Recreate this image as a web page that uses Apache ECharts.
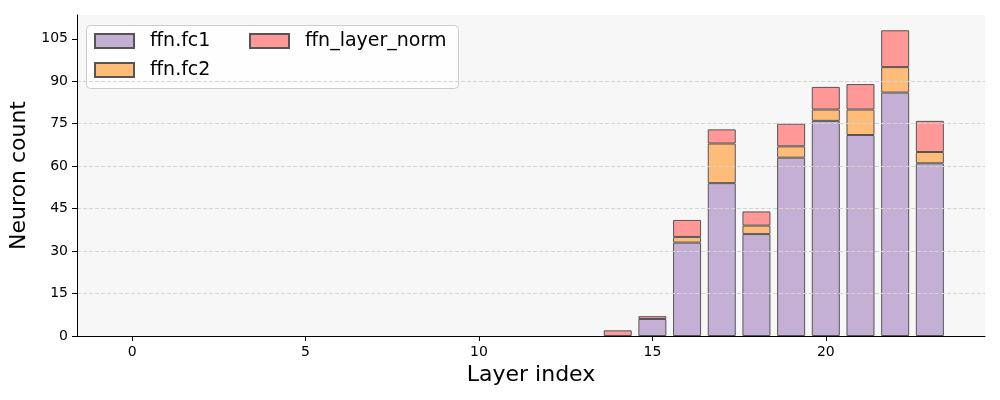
<!DOCTYPE html>
<html>
<head>
<meta charset="utf-8">
<script src="https://cdn.jsdelivr.net/npm/echarts@6/dist/echarts.min.js"></script>
<style>
  html, body { margin: 0; padding: 0; background: #ffffff; }
  #chart { width: 1000px; height: 400px; }
</style>
</head>
<body>
<div id="chart"></div>
<script>
// layer index 0..23
const layers = [0, 1, 2, 3, 4, 5, 6, 7, 8, 9, 10, 11, 12, 13, 14, 15, 16, 17, 18, 19, 20, 21, 22, 23];
const fc1 = [0, 0, 0, 0, 0, 0, 0, 0, 0, 0, 0, 0, 0, 0, 0, 6, 33, 54, 36, 63, 76, 71, 86, 61];
const fc2 = [0, 0, 0, 0, 0, 0, 0, 0, 0, 0, 0, 0, 0, 0, 0, 0, 2, 14, 3, 4, 4, 9, 9, 4];
const layerNorm = [0, 0, 0, 0, 0, 0, 0, 0, 0, 0, 0, 0, 0, 0, 2, 1, 6, 5, 5, 8, 8, 9, 13, 11];
const xTicks = [0, 5, 10, 15, 20];
const yTicks = [0, 15, 30, 45, 60, 75, 90, 105];

const font = "DejaVu Sans";
const edge = { borderColor: "#555555", borderWidth: 1 };

// value first so the stack goes on y; zero-height bars draw nothing
function pairs(vals) {
  return layers.map((l, i) => [vals[i] === 0 ? null : vals[i], l]);
}

function barSeries(name, vals, color) {
  return {
    name: name,
    type: "bar",
    stack: "ffn",
    barWidth: 28,
    encode: { x: 1, y: 0 },
    data: pairs(vals),
    itemStyle: Object.assign({ color: color }, edge),
  };
}

const legendText = {
  fontFamily: font,
  fontSize: 19,
  lineHeight: 20,
  color: "#000",
  padding: [0, 0, 0, 11],
};

let myChart = echarts.init(document.getElementById("chart"));
let option = {
  animation: false,
  textStyle: { fontFamily: font },
  grid: {
    left: 77,
    right: 15,
    top: 15,
    bottom: 64,
    show: true,
    backgroundColor: "#f7f7f7",
    borderWidth: 0,
  },
  graphic: [
    {
      type: "rect",
      z: 3,
      shape: { x: 86.5, y: 25.5, width: 372, height: 63, r: 4 },
      style: { fill: "rgba(255,255,255,0.8)", stroke: "#cccccc", lineWidth: 1 },
    },
  ],
  legend: [
    {
      z: 5,
      orient: "vertical",
      left: 94,
      top: 31,
      padding: 0,
      itemGap: 9,
      itemWidth: 39,
      itemHeight: 14,
      icon: "rect",
      data: ["ffn.fc1", "ffn.fc2"],
      textStyle: legendText,
    },
    {
      z: 5,
      left: 249,
      top: 31,
      padding: 0,
      itemWidth: 39,
      itemHeight: 14,
      icon: "rect",
      data: ["ffn_layer_norm"],
      textStyle: legendText,
    },
  ],
  xAxis: {
    type: "value",
    z: 4,
    min: -1.59,
    max: 24.59,
    name: "Layer index",
    nameLocation: "middle",
    nameGap: 24,
    nameTextStyle: { fontFamily: font, fontSize: 22, color: "#000" },
    axisLine: { show: true, onZero: false, lineStyle: { color: "#000", width: 1 } },
    axisTick: { show: true, length: 5, customValues: xTicks, lineStyle: { color: "#000" } },
    axisLabel: { customValues: xTicks, margin: 9, fontFamily: font, fontSize: 14, color: "#000" },
    splitLine: { show: false },
  },
  yAxis: {
    type: "value",
    z: 4,
    min: 0,
    max: 113.4,
    interval: 15,
    name: "Neuron count",
    nameLocation: "middle",
    nameGap: 39,
    nameTextStyle: { fontFamily: font, fontSize: 22, color: "#000" },
    axisLine: { show: true, onZero: false, lineStyle: { color: "#000", width: 1 } },
    axisTick: { show: true, length: 5, customValues: yTicks, lineStyle: { color: "#000" } },
    axisLabel: { customValues: yTicks, margin: 9, fontFamily: font, fontSize: 14, color: "#000" },
    splitLine: {
      show: true,
      showMaxLine: false,
      showMinLine: false,
      lineStyle: { color: "#d4d4d4", type: [4, 2], width: 1 },
    },
  },
  series: [
    barSeries("ffn.fc1", fc1, "#c5b0d5"),
    barSeries("ffn.fc2", fc2, "#ffbb78"),
    barSeries("ffn_layer_norm", layerNorm, "#ff9896"),
  ],
};
myChart.setOption(option);
</script>
</body>
</html>
